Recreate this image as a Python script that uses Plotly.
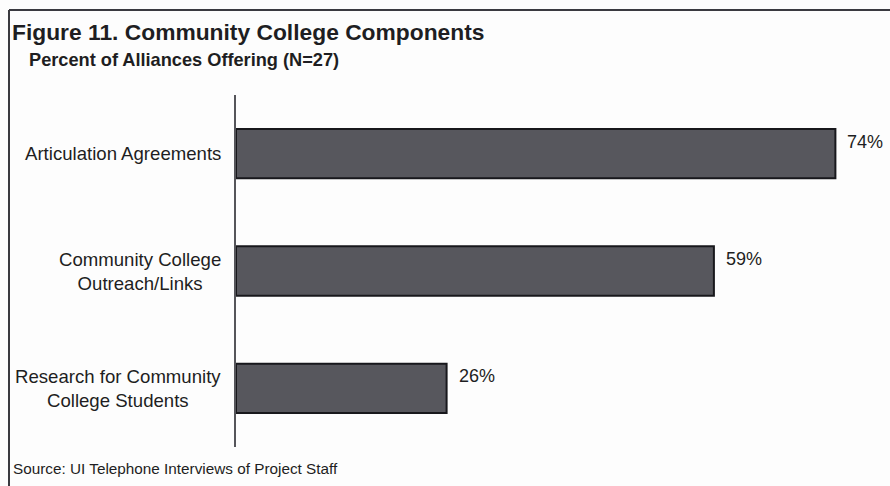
import plotly.graph_objects as go

# Community college components offered by alliances (percent, N=27)
categories = [
    "Articulation Agreements",
    "Community College<br>Outreach/Links",
    "Research for Community<br>College Students",
]
percent_offering = [74, 59, 26]

title_text = "Figure 11. Community College Components"
subtitle_text = "Percent of Alliances Offering (N=27)"
source_text = "Source: UI Telephone Interviews of Project Staff"

W, H = 890, 486
ML, MR, MT, MB = 236, 0, 95, 39
PW, PH = W - ML - MR, H - MT - MB


def px_x(x):
    """Pixel column -> paper x."""
    return (x - ML) / PW


def px_y(y):
    """Pixel row (from top) -> paper y."""
    return 1 - (y - MT) / PH


FONT = "Arial, Liberation Sans, Helvetica, sans-serif"
INK = "#1e1e22"
BG = "#fdfdfd"

fig = go.Figure(
    go.Bar(
        x=percent_offering,
        y=categories,
        orientation="h",
        marker=dict(
            color="#56565c",
            line=dict(color="#18181c", width=2),
            pattern=dict(shape=".", fgcolor="#36363c", bgcolor="#707076",
                         size=2, solidity=0.5, fillmode="replace"),
        ),
        width=0.42,
        hoverinfo="skip",
    )
)

annotations = []
# category labels: centred text blocks, right-aligned to the axis
for cat in categories:
    annotations.append(dict(
        x=px_x(223), xref="paper", xanchor="right",
        y=cat, yref="y", yanchor="middle",
        text=cat, align="center", showarrow=False,
        font=dict(family=FONT, size=18.6, color=INK),
    ))
# value labels at the end of each bar
for cat, v in zip(categories, percent_offering):
    annotations.append(dict(
        x=v, xref="x", xanchor="left", xshift=10,
        y=cat, yref="y", yanchor="middle", yshift=12,
        text=f"{v}%", showarrow=False,
        font=dict(family=FONT, size=18, color=INK),
    ))
annotations += [
    dict(x=px_x(10), xref="paper", xanchor="left",
         y=px_y(32), yref="paper", yanchor="middle",
         text=f"<b>{title_text}</b>", showarrow=False,
         font=dict(family=FONT, size=22.8, color=INK)),
    dict(x=px_x(27), xref="paper", xanchor="left",
         y=px_y(60), yref="paper", yanchor="middle",
         text=f"<b>{subtitle_text}</b>", showarrow=False,
         font=dict(family=FONT, size=18.2, color=INK)),
    dict(x=px_x(11), xref="paper", xanchor="left",
         y=px_y(468), yref="paper", yanchor="middle",
         text=source_text, showarrow=False,
         font=dict(family=FONT, size=15.3, color=INK)),
]

# page frame (top and left rules)
frame = dict(type="line", xref="paper", yref="paper",
             line=dict(color="#3a3a40", width=2))
shapes = [
    dict(frame, x0=px_x(9), x1=px_x(900), y0=px_y(10), y1=px_y(10)),
    dict(frame, x0=px_x(9), x1=px_x(9), y0=px_y(10), y1=px_y(500)),
]

fig.update_layout(
    width=W, height=H,
    margin=dict(l=ML, r=MR, t=MT, b=MB, pad=0),
    paper_bgcolor=BG,
    plot_bgcolor=BG,
    showlegend=False,
    annotations=annotations,
    shapes=shapes,
    xaxis=dict(range=[0, PW / 8.1], visible=False, fixedrange=True),
    yaxis=dict(
        range=[2.5, -0.5],
        showticklabels=False, ticks="",
        showgrid=False, zeroline=False,
        showline=True, linecolor="#55555a", linewidth=2,
        fixedrange=True,
    ),
)

fig.write_html("out.html", config={"displayModeBar": False})
